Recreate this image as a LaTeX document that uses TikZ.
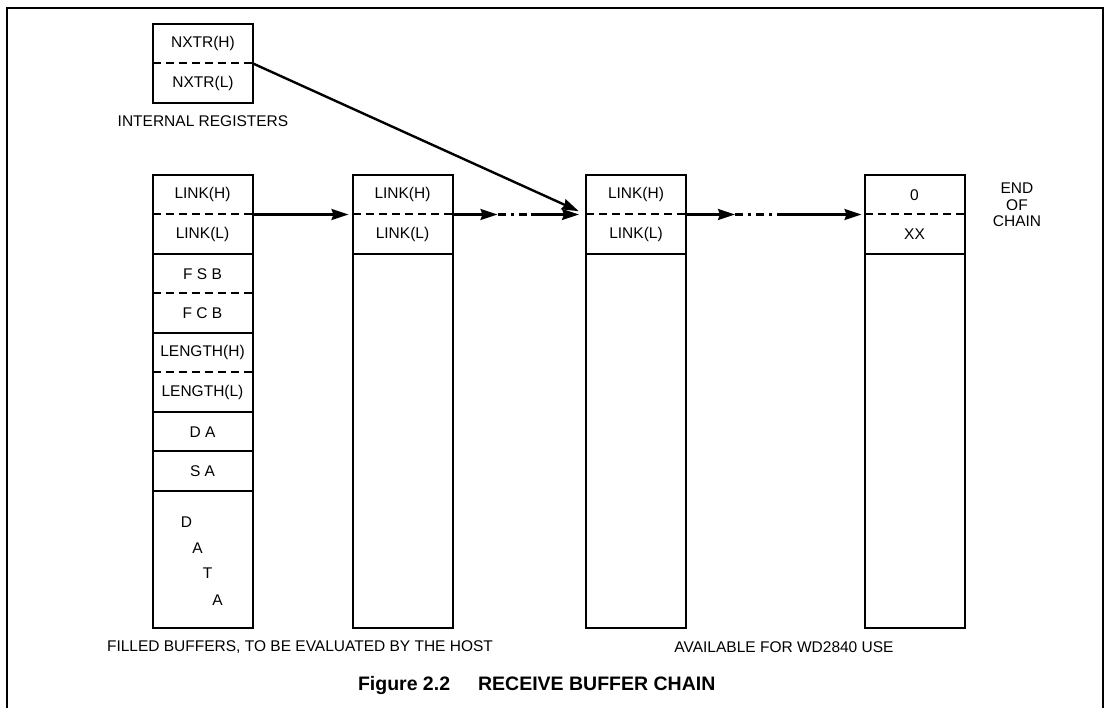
\documentclass[tikz,border=0pt]{standalone}
\usepackage{fontspec}
\setmainfont{Liberation Sans}
\usetikzlibrary{arrows.meta, positioning, fit}

\begin{document}
\begin{tikzpicture}[
  x=1pt, y=-1pt,
  font=\fontsize{15.5}{16.5}\selectfont,
  line width=2pt,
  field/.style={minimum width=100pt, minimum height=39.5pt, inner sep=0pt, outer sep=0pt, align=center},
  pairbox/.style={draw, inner sep=0pt, outer sep=0pt},
  sep/.style={dash pattern=on 8pt off 5pt},
  link/.style={-{Stealth[length=17pt, width=11pt, inset=2pt]}, line width=2.4pt},
  skip/.style={line width=2.4pt, dash pattern=on 8pt off 5pt on 3pt off 5pt},
  lbl/.style={inner sep=0pt}
]
\useasboundingbox (0,0) rectangle (1106,708);

% frame (runs off the bottom)
\draw (7,712) -- (7,8) -- (1103,8) -- (1103,712);

% Internal registers
\node[field, anchor=north] (nxh) at (203,24) {NXTR(H)};
\node[field, below=0pt of nxh] (nxl) {NXTR(L)};
\node[pairbox, fit=(nxh)(nxl)] {};
\draw[sep] (nxh.south west) -- (nxh.south east);
\node[lbl, below=12pt of nxl] (regs) {INTERNAL REGISTERS};

% First buffer, full layout
\node[field, anchor=north] (l1h) at (202.5,175) {LINK(H)};
\node[field, below=0pt of l1h] (l1l) {LINK(L)};
\node[field, below=0pt of l1l] (fsb) {F S B};
\node[field, below=0pt of fsb] (fcb) {F C B};
\node[field, below=0pt of fcb] (lenh) {LENGTH(H)};
\node[field, below=0pt of lenh] (lenl) {LENGTH(L)};
\node[field, draw, below=0pt of lenl] (da) {D A};
\node[field, draw, below=0pt of da] (sa) {S A};
\node[field, draw, below=0pt of sa, minimum height=137pt] (data) {};
\node[pairbox, fit=(l1h)(l1l)] {};
\node[pairbox, fit=(fsb)(fcb)] {};
\node[pairbox, fit=(lenh)(lenl)] {};
\draw[sep] (l1h.south west) -- (l1h.south east);
\draw[sep] (fsb.south west) -- (fsb.south east);
\draw[sep] (lenh.south west) -- (lenh.south east);

% staggered DATA letters
\node[lbl] (dd) at ([shift={(34pt,-31pt)}]data.north west) {D};
\node[lbl] (da1) at ([shift={(45pt,-57pt)}]data.north west) {A};
\node[lbl] (dt) at ([shift={(55pt,-82pt)}]data.north west) {T};
\node[lbl] (da2) at ([shift={(65pt,-109pt)}]data.north west) {A};

% Second buffer
\node[field, anchor=north] (l2h) at (402.5,175) {LINK(H)};
\node[field, below=0pt of l2h] (l2l) {LINK(L)};
\node[field, draw, below=0pt of l2l, minimum height=374pt] (b2) {};
\node[pairbox, fit=(l2h)(l2l)] {};
\draw[sep] (l2h.south west) -- (l2h.south east);

% Third buffer
\node[field, anchor=north] (l3h) at (636,175) {LINK(H)};
\node[field, below=0pt of l3h] (l3l) {LINK(L)};
\node[field, draw, below=0pt of l3l, minimum height=374pt] (b3) {};
\node[pairbox, fit=(l3h)(l3l)] {};
\draw[sep] (l3h.south west) -- (l3h.south east);

% Last buffer
\node[field, anchor=north] (l4h) at (914.5,175) {0};
\node[field, below=0pt of l4h] (l4l) {XX};
\node[field, draw, below=0pt of l4l, minimum height=374pt] (b4) {};
\node[pairbox, fit=(l4h)(l4l)] {};
\draw[sep] (l4h.south west) -- (l4h.south east);
\node[lbl, align=center] (eoc) at (1017,205) {END\\OF\\CHAIN};

% Chain links
\draw[link, shorten >=8pt] (nxh.south east) -- (l3h.south west);
\draw[link, shorten >=4pt] (l1h.south east) -- (l2h.south west);

\coordinate[right=45pt of l2h.south east] (g2a);
\coordinate[right=33pt of g2a] (g2b);
\draw[link] (l2h.south east) -- (g2a);
\draw[skip] (g2a) -- (g2b);
\draw[link, shorten >=7pt] (g2b) -- (l3h.south west);

\coordinate[right=49pt of l3h.south east] (g3a);
\coordinate[right=45pt of g3a] (g3b);
\draw[link] (l3h.south east) -- (g3a);
\draw[skip] (g3a) -- (g3b);
\draw[link, shorten >=3pt] (g3b) -- (l4h.south west);

% Captions
\node[lbl] (filled) at (300,647) {FILLED BUFFERS, TO BE EVALUATED BY THE HOST};
\node[lbl] (avail) at (784,647) {AVAILABLE FOR WD2840 USE};
\node[lbl, anchor=west, font=\fontsize{19.5}{21}\selectfont\bfseries] (title) at (357,685)
  {Figure 2.2\hspace{28pt}RECEIVE BUFFER CHAIN};

\end{tikzpicture}
\end{document}
